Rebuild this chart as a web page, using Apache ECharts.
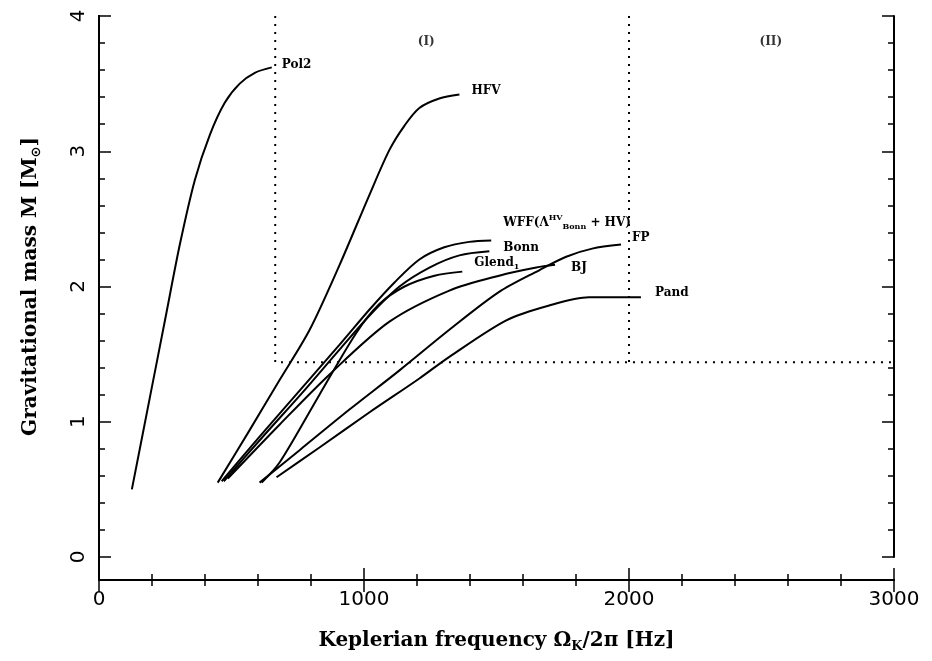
<!DOCTYPE html>
<html>
<head>
<meta charset="utf-8">
<script src="https://cdn.jsdelivr.net/npm/echarts@6/dist/echarts.min.js"></script>
<style>
  html, body { margin: 0; padding: 0; background: #fff; }
  #chart { width: 932px; height: 661px; }
</style>
</head>
<body>
<div id="chart"></div>
<script>
// [Keplerian frequency Hz, gravitational mass Msun]
const pol2 = [[124, 0.50], [192, 1.18], [249, 1.75], [305, 2.31], [362, 2.79], [418, 3.12], [475, 3.36], [531, 3.50], [588, 3.58], [652, 3.62]]
const hfv = [[448, 0.55], [569, 0.94], [682, 1.31], [795, 1.68], [908, 2.16], [1021, 2.68], [1096, 3.01], [1153, 3.19], [1209, 3.32], [1284, 3.39], [1360, 3.42]]
const wff = [[463, 0.56], [606, 0.89], [757, 1.23], [908, 1.57], [1021, 1.83], [1115, 2.03], [1209, 2.20], [1303, 2.29], [1397, 2.33], [1480, 2.34]]
const bonn = [[471, 0.56], [614, 0.88], [765, 1.21], [915, 1.55], [1028, 1.80], [1134, 2.00], [1247, 2.14], [1360, 2.23], [1473, 2.26]]
const glend = [[614, 0.55], [682, 0.70], [832, 1.20], [972, 1.66], [1058, 1.87], [1153, 2.00], [1266, 2.08], [1371, 2.11]]
const bj = [[486, 0.58], [682, 0.98], [870, 1.35], [1096, 1.74], [1322, 1.97], [1510, 2.08], [1650, 2.14], [1721, 2.16]]
const fp = [[606, 0.55], [757, 0.79], [945, 1.09], [1134, 1.38], [1322, 1.68], [1510, 1.96], [1661, 2.12], [1763, 2.22], [1861, 2.28], [1970, 2.31]]
const pand = [[670, 0.59], [832, 0.81], [1021, 1.07], [1209, 1.32], [1322, 1.48], [1537, 1.75], [1699, 1.86], [1849, 1.92], [1974, 1.92], [2045, 1.92]]

// limits drawn dotted: PSR frequency, 2000 Hz, 1.44 Msun
const freqLimits = [665, 2000]
const massLimit = 1.44
const regionLabels = [['(I)', 1235, 3.81], ['(II)', 2535, 3.81]]

const chart = echarts.init(document.getElementById('chart'))

const curve = (name, data, label, offset) => ({
  name,
  type: 'line',
  data,
  smooth: 0.3,
  symbol: 'none',
  lineStyle: { color: '#000', width: 2 },
  endLabel: {
    show: true,
    formatter: label,
    offset,
    color: '#000',
    fontFamily: 'DejaVu Serif',
    fontWeight: 'bold',
    fontSize: 12,
    rich: {
      sup: { fontSize: 8, verticalAlign: 'top', padding: [0, 0, 9, 0], fontWeight: 'bold', fontFamily: 'DejaVu Serif' },
      sub: { fontSize: 8, verticalAlign: 'bottom', padding: [9, 0, 0, 0], fontWeight: 'bold', fontFamily: 'DejaVu Serif' },
    },
  },
  z: 3,
})

const dotted = data => ({
  type: 'line',
  data,
  symbol: 'none',
  silent: true,
  lineStyle: { color: '#000', width: 2, type: [2, 6] },
})

const tickLine = { color: '#000', width: 1.5 }
const tickFont = { color: '#000', fontFamily: 'DejaVu Sans', fontSize: 20 }

// grid 0: data area, mass 0..4 (box bottom sits a bit below zero)
// grid 1: outer frame with the frequency axes
const freqAxis = (gridIndex, position, extra) => ({
  type: 'value',
  gridIndex,
  min: 0,
  max: 3000,
  interval: 1000,
  position,
  axisLine: { lineStyle: { color: '#000', width: 2 } },
  axisTick: { inside: true, length: 12, lineStyle: tickLine },
  minorTick: { show: true, splitNumber: 5, length: 6, lineStyle: tickLine },
  axisLabel: { show: false },
  splitLine: { show: false },
  ...extra,
})

const massAxis = (position, extra) => ({
  type: 'value',
  gridIndex: 0,
  min: 0,
  max: 4,
  interval: 1,
  position,
  axisLine: { show: true, lineStyle: { color: '#000', width: 2 } },
  axisTick: { show: true, inside: true, length: 12, lineStyle: tickLine },
  minorTick: { show: true, splitNumber: 5, length: 6, lineStyle: tickLine },
  axisLabel: { show: false },
  splitLine: { show: false },
  ...extra,
})

const frameAxis = position => ({
  type: 'value',
  gridIndex: 1,
  min: 0,
  max: 1,
  position,
  axisLine: { show: true, lineStyle: { color: '#000', width: 2 } },
  axisTick: { show: false },
  axisLabel: { show: false },
  splitLine: { show: false },
})

const option = {
  animation: false,
  backgroundColor: '#fff',
  grid: [
    { left: 99, right: 38, top: 16, bottom: 104 },
    { left: 99, right: 38, top: 16, bottom: 81 },
  ],
  xAxis: [
    freqAxis(0, 'bottom', { show: false }),
    freqAxis(1, 'bottom', {
      name: '{a|Keplerian frequency Ω}{s|K}{a|/2π [Hz]}',
      nameLocation: 'middle',
      nameGap: 48,
      nameTextStyle: {
        rich: {
          a: { fontFamily: 'DejaVu Serif', fontWeight: 'bold', fontSize: 20, color: '#000' },
          s: { fontFamily: 'DejaVu Serif', fontWeight: 'bold', fontSize: 13, color: '#000', padding: [12, 0, 0, 0] },
        },
      },
      axisLabel: { ...tickFont, margin: 10, formatter: v => String(v) },
    }),
    freqAxis(1, 'top'),
  ],
  yAxis: [
    massAxis('left', {
      name: 'Gravitational mass M [M{s|⊙}]',
      nameLocation: 'middle',
      nameRotate: 90,
      nameGap: 56,
      nameTextStyle: {
        fontFamily: 'DejaVu Serif',
        fontWeight: 'bold',
        fontSize: 20,
        color: '#000',
        rich: {
          s: { fontFamily: 'DejaVu Sans', fontWeight: 'bold', fontSize: 13, color: '#000', padding: [12, 0, 0, 0] },
        },
      },
      axisLabel: { ...tickFont, show: true, rotate: 90, margin: 10 },
    }),
    massAxis('right'),
    frameAxis('left'),
    frameAxis('right'),
  ],
  series: [
    dotted([[freqLimits[0], 4], [freqLimits[0], massLimit], [3000, massLimit]]),
    dotted([[freqLimits[1], 4], [freqLimits[1], massLimit]]),
    curve('Pol2', pol2, 'Pol2', [2, -3]),
    curve('HFV', hfv, 'HFV', [4, -4]),
    curve('WFF', wff, 'WFF(Λ{sup|HV}{sub|Bonn} + HV)', [4, -18]),
    curve('Bonn', bonn, 'Bonn', [6, -3]),
    curve('Glend', glend, 'Glend{sub|1}', [4, -9]),
    curve('BJ', bj, 'BJ', [8, 3]),
    curve('FP', fp, 'FP', [3, -7]),
    curve('Pand', pand, 'Pand', [6, -4]),
    {
      type: 'scatter',
      data: regionLabels.map(r => ({ value: [r[1], r[2]], name: r[0] })),
      symbolSize: 0,
      silent: true,
      label: {
        show: true,
        position: 'inside',
        formatter: p => p.name,
        color: '#000',
        fontFamily: 'DejaVu Serif',
        fontWeight: 'bold',
        fontSize: 12,
      },
    },
  ],
}

chart.setOption(option)
</script>
</body>
</html>
